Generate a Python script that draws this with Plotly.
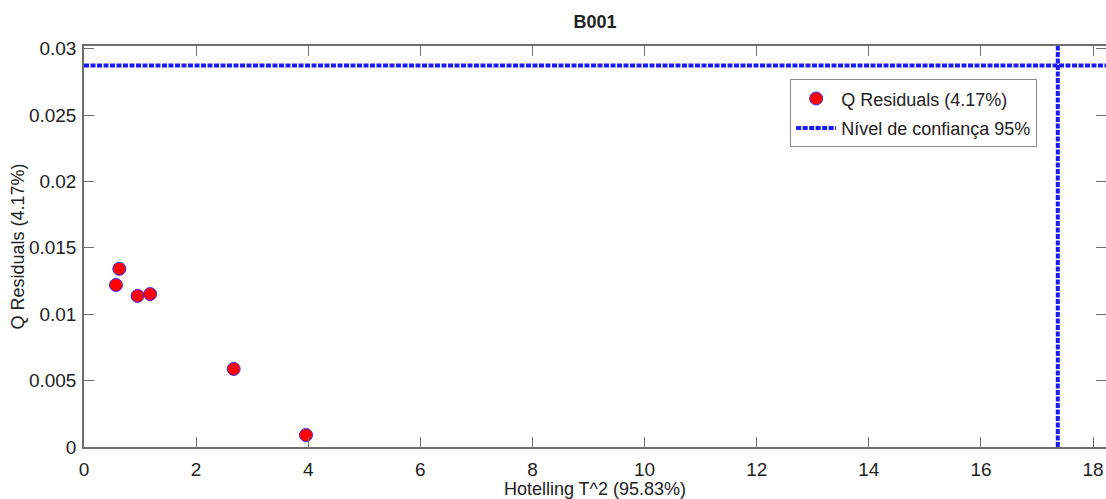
import plotly.graph_objects as go

# Data
t2_values = [0.57, 0.63, 0.955, 1.18, 2.67, 3.96]
q_values = [0.0122, 0.01342, 0.01138, 0.01152, 0.00588, 0.00090]
q_limit = 0.02874
t2_limit = 17.37
x_range = [0, 18.23]
y_range = [0, 0.0302]
x_ticks = [0, 2, 4, 6, 8, 10, 12, 14, 16, 18]
y_ticks = [0, 0.005, 0.01, 0.015, 0.02, 0.025, 0.03]
y_tick_text = ["0", "0.005", "0.01", "0.015", "0.02", "0.025", "0.03"]

FONT = "Liberation Sans, Arial, sans-serif"
TXT = "#222222"
AX = "#6e6e6e"

fig = go.Figure()

fig.add_trace(go.Scatter(
    x=t2_values, y=q_values, mode="markers",
    name="Q Residuals (4.17%)", legendgroup="a",
    marker=dict(color="#ff0000", size=13, line=dict(color="#3030ff", width=1)),
))

line_x = [x_range[0], x_range[1], None, t2_limit, t2_limit]
line_y = [q_limit, q_limit, None, y_range[0], y_range[1]]
fig.add_trace(go.Scatter(
    x=line_x, y=line_y, mode="lines",
    name="Nível de confiança 95%", legendgroup="b",
    line=dict(color="#1a1aff", width=4, dash="5px,1.5px"),
))

fig.update_layout(
    width=1106, height=499,
    margin=dict(l=83.5, r=0, t=45.7, b=52.3, autoexpand=False),
    paper_bgcolor="white", plot_bgcolor="white",
    font=dict(family=FONT, size=18, color=TXT),
    title=dict(text="<b>B001</b>", x=595/1106, xanchor="center",
               y=1 - 22/499, yanchor="middle",
               font=dict(family=FONT, size=18, color=TXT)),
    showlegend=True,
    legend=dict(
        x=(790 - 83.5) / 1022.5, y=(447 - 79) / 401.3,
        xanchor="left", yanchor="top",
        bgcolor="white", bordercolor="#8a8a8a", borderwidth=1,
        font=dict(family=FONT, size=18, color=TXT),
        tracegroupgap=3, itemwidth=40,
    ),
)

fig.update_xaxes(
    range=x_range, tickvals=x_ticks, ticktext=[str(v) for v in x_ticks],
    automargin=False,
    showgrid=False, zeroline=False,
    showline=True, linecolor=AX, linewidth=1.5, mirror="ticks",
    ticks="inside", ticklen=10, tickcolor=AX, tickwidth=1,
    tickfont=dict(family=FONT, size=19, color=TXT),
    ticklabelstandoff=4,
    title=dict(text="Hotelling T^2 (95.83%)", standoff=3,
               font=dict(family=FONT, size=18, color=TXT)),
)
fig.update_yaxes(
    range=y_range, tickvals=y_ticks, ticktext=y_tick_text,
    automargin=False,
    showgrid=False, zeroline=False,
    showline=True, linecolor=AX, linewidth=1.5, mirror="ticks",
    ticks="inside", ticklen=10, tickcolor=AX, tickwidth=1,
    tickfont=dict(family=FONT, size=19, color=TXT),
    ticklabelstandoff=2,
    title=dict(text="Q Residuals (4.17%)", standoff=0,
               font=dict(family=FONT, size=18, color=TXT)),
)

fig.write_html(
    "out.html", config={"displayModeBar": False},
    post_script=("document.body.style.margin='0';"
                 "document.body.style.overflow='hidden';"
                 "document.documentElement.style.overflow='hidden';"),
)
